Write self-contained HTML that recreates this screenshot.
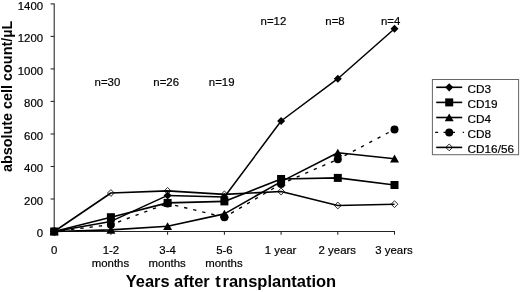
<!DOCTYPE html>
<html><head><meta charset="utf-8"><title>Lymphocyte subsets after transplantation</title>
<style>
html,body{margin:0;padding:0;background:#fff;}
body{width:520px;height:292px;overflow:hidden;}
svg{display:block;font-family:"Liberation Sans",Arial,sans-serif;}
.t{font-size:11.4px;fill:#000;stroke:#000;stroke-width:0.2px;}
.b{font-weight:bold;fill:#000;}
</style></head><body>
<svg width="520" height="292" viewBox="0 0 520 292">
<rect width="520" height="292" fill="#fff"/>

<g stroke="#222" stroke-width="1.05" fill="none">
<line x1="54.2" y1="3.5" x2="54.2" y2="232.0"/>
<line x1="53.7" y1="231.5" x2="395.0" y2="231.5"/>
<line x1="50.6" y1="231.5" x2="54.2" y2="231.5"/>
<line x1="50.6" y1="199.0" x2="54.2" y2="199.0"/>
<line x1="50.6" y1="166.5" x2="54.2" y2="166.5"/>
<line x1="50.6" y1="134.0" x2="54.2" y2="134.0"/>
<line x1="50.6" y1="101.4" x2="54.2" y2="101.4"/>
<line x1="50.6" y1="68.9" x2="54.2" y2="68.9"/>
<line x1="50.6" y1="36.4" x2="54.2" y2="36.4"/>
<line x1="50.6" y1="3.9" x2="54.2" y2="3.9"/>
<line x1="54.2" y1="231.5" x2="54.2" y2="234.7"/>
<line x1="110.9" y1="231.5" x2="110.9" y2="234.7"/>
<line x1="167.6" y1="231.5" x2="167.6" y2="234.7"/>
<line x1="224.4" y1="231.5" x2="224.4" y2="234.7"/>
<line x1="281.1" y1="231.5" x2="281.1" y2="234.7"/>
<line x1="337.8" y1="231.5" x2="337.8" y2="234.7"/>
<line x1="394.5" y1="231.5" x2="394.5" y2="234.7"/>
</g>
<text class="t" x="43.1" y="237.1" text-anchor="end">0</text>
<text class="t" x="43.1" y="204.6" text-anchor="end">200</text>
<text class="t" x="43.1" y="172.1" text-anchor="end">400</text>
<text class="t" x="43.1" y="139.6" text-anchor="end">600</text>
<text class="t" x="43.1" y="107.0" text-anchor="end">800</text>
<text class="t" x="43.1" y="74.5" text-anchor="end">1000</text>
<text class="t" x="43.1" y="42.0" text-anchor="end">1200</text>
<text class="t" x="43.1" y="9.5" text-anchor="end">1400</text>
<text class="t" x="54.2" y="253.6" text-anchor="middle">0</text>
<text class="t" x="110.9" y="253.6" text-anchor="middle">1-2</text>
<text class="t" x="110.4" y="266.5" text-anchor="middle">months</text>
<text class="t" x="167.6" y="253.6" text-anchor="middle">3-4</text>
<text class="t" x="167.1" y="266.5" text-anchor="middle">months</text>
<text class="t" x="224.4" y="253.6" text-anchor="middle">5-6</text>
<text class="t" x="223.9" y="266.5" text-anchor="middle">months</text>
<text class="t" x="280.6" y="253.6" text-anchor="middle">1 year</text>
<text class="t" x="337.3" y="253.6" text-anchor="middle">2 years</text>
<text class="t" x="394.0" y="253.6" text-anchor="middle">3 years</text>
<text class="t" x="107.4" y="86" text-anchor="middle">n=30</text>
<text class="t" x="166.2" y="86" text-anchor="middle">n=26</text>
<text class="t" x="221.7" y="86" text-anchor="middle">n=19</text>
<text class="t" x="273.4" y="25" text-anchor="middle">n=12</text>
<text class="t" x="335.0" y="25" text-anchor="middle">n=8</text>
<text class="t" x="390.6" y="25" text-anchor="middle">n=4</text>
<text class="b" x="125.8" y="286.6" font-size="16.4px">Years after <tspan x="215.3">t</tspan><tspan x="222.5" style="font-size:16.5px">ransplantation</tspan></text>
<text class="b" transform="translate(12.1,96.4) rotate(-90)" text-anchor="middle" font-size="14.4px">absolute cell count/µL</text>
<g fill="none" stroke="#000" stroke-width="1.6" stroke-linejoin="round">
<polyline points="54.2,231.5 110.9,193.0 167.6,190.9 224.4,194.4 281.1,191.5 337.8,205.5 394.5,204.2"/>
<line x1="54.2" y1="231.5" x2="110.9" y2="224.7" stroke-width="1.35" stroke-dasharray="3.3,6" stroke-dashoffset="1.6"/>
<line x1="110.9" y1="224.7" x2="167.6" y2="203.5" stroke-width="1.35" stroke-dasharray="3.3,6" stroke-dashoffset="1.6"/>
<line x1="167.6" y1="203.5" x2="224.4" y2="217.2" stroke-width="1.35" stroke-dasharray="3.3,6" stroke-dashoffset="1.6"/>
<line x1="224.4" y1="217.2" x2="281.1" y2="183.9" stroke-width="1.35" stroke-dasharray="3.3,6" stroke-dashoffset="1.6"/>
<line x1="281.1" y1="183.9" x2="337.8" y2="159.3" stroke-width="1.35" stroke-dasharray="3.3,6" stroke-dashoffset="1.6"/>
<line x1="337.8" y1="159.3" x2="394.5" y2="129.4" stroke-width="1.35" stroke-dasharray="3.3,6" stroke-dashoffset="1.6"/>
<polyline points="54.2,231.5 110.9,229.9 167.6,226.3 224.4,213.9 281.1,181.6 337.8,152.8 394.5,158.7"/>
<polyline points="54.2,231.5 110.9,217.2 167.6,202.9 224.4,201.4 281.1,179.0 337.8,177.9 394.5,185.0"/>
<polyline points="54.2,231.5 110.9,221.4 167.6,195.4 224.4,197.0 281.1,121.0 337.8,78.7 394.5,28.8" stroke-width="1.5"/>
</g>
<polygon points="54.2,228.1 57.6,231.5 54.2,234.9 50.8,231.5" fill="none" stroke="#000" stroke-width="0.85"/>
<polygon points="110.9,189.6 114.3,193.0 110.9,196.4 107.5,193.0" fill="none" stroke="#000" stroke-width="0.85"/>
<polygon points="167.6,187.5 171.0,190.9 167.6,194.3 164.2,190.9" fill="none" stroke="#000" stroke-width="0.85"/>
<polygon points="224.4,191.0 227.8,194.4 224.4,197.8 221.0,194.4" fill="none" stroke="#000" stroke-width="0.85"/>
<polygon points="281.1,188.1 284.5,191.5 281.1,194.9 277.7,191.5" fill="none" stroke="#000" stroke-width="0.85"/>
<polygon points="337.8,202.1 341.2,205.5 337.8,208.9 334.4,205.5" fill="none" stroke="#000" stroke-width="0.85"/>
<polygon points="394.5,200.8 397.9,204.2 394.5,207.6 391.1,204.2" fill="none" stroke="#000" stroke-width="0.85"/>
<circle cx="54.2" cy="231.5" r="4" fill="#000"/>
<circle cx="110.9" cy="224.7" r="4" fill="#000"/>
<circle cx="167.6" cy="203.5" r="4" fill="#000"/>
<circle cx="224.4" cy="217.2" r="4" fill="#000"/>
<circle cx="281.1" cy="183.9" r="4" fill="#000"/>
<circle cx="337.8" cy="159.3" r="4" fill="#000"/>
<circle cx="394.5" cy="129.4" r="4" fill="#000"/>
<polygon points="54.2,227.4 58.7,235.3 49.7,235.3" fill="#000"/>
<polygon points="110.9,225.8 115.4,233.7 106.4,233.7" fill="#000"/>
<polygon points="167.6,222.2 172.1,230.1 163.1,230.1" fill="#000"/>
<polygon points="224.4,209.8 228.9,217.7 219.9,217.7" fill="#000"/>
<polygon points="281.1,177.5 285.6,185.4 276.6,185.4" fill="#000"/>
<polygon points="337.8,148.7 342.3,156.6 333.3,156.6" fill="#000"/>
<polygon points="394.5,154.6 399.0,162.5 390.0,162.5" fill="#000"/>
<rect x="50.2" y="227.5" width="8" height="8" fill="#000"/>
<rect x="106.9" y="213.2" width="8" height="8" fill="#000"/>
<rect x="163.6" y="198.9" width="8" height="8" fill="#000"/>
<rect x="220.4" y="197.4" width="8" height="8" fill="#000"/>
<rect x="277.1" y="175.0" width="8" height="8" fill="#000"/>
<rect x="333.8" y="173.9" width="8" height="8" fill="#000"/>
<rect x="390.5" y="181.0" width="8" height="8" fill="#000"/>
<polygon points="54.2,227.5 58.2,231.5 54.2,235.5 50.2,231.5" fill="#000" stroke="none" stroke-width="0.85"/>
<polygon points="110.9,217.4 114.9,221.4 110.9,225.4 106.9,221.4" fill="#000" stroke="none" stroke-width="0.85"/>
<polygon points="167.6,191.4 171.6,195.4 167.6,199.4 163.6,195.4" fill="#000" stroke="none" stroke-width="0.85"/>
<polygon points="224.4,193.0 228.4,197.0 224.4,201.0 220.4,197.0" fill="#000" stroke="none" stroke-width="0.85"/>
<polygon points="281.1,117.0 285.1,121.0 281.1,125.0 277.1,121.0" fill="#000" stroke="none" stroke-width="0.85"/>
<polygon points="337.8,74.7 341.8,78.7 337.8,82.7 333.8,78.7" fill="#000" stroke="none" stroke-width="0.85"/>
<polygon points="394.5,24.8 398.5,28.8 394.5,32.8 390.5,28.8" fill="#000" stroke="none" stroke-width="0.85"/>
<rect x="432.4" y="79.5" width="86.2" height="75.2" fill="#fff" stroke="#666" stroke-width="1"/>
<line x1="436.2" y1="87.3" x2="462.2" y2="87.3" stroke="#000" stroke-width="1.6"/>
<polygon points="449.2,83.2 453.3,87.3 449.2,91.4 445.1,87.3" fill="#000" stroke="none" stroke-width="0.85"/>
<text class="t" x="467.5" y="92.7" style="font-size:11.8px">CD3</text>
<line x1="436.2" y1="102.4" x2="462.2" y2="102.4" stroke="#000" stroke-width="1.6"/>
<rect x="445.2" y="98.4" width="8" height="8" fill="#000"/>
<text class="t" x="467.5" y="107.5" style="font-size:11.8px">CD19</text>
<line x1="436.2" y1="117.5" x2="462.2" y2="117.5" stroke="#000" stroke-width="1.6"/>
<polygon points="449.2,113.4 453.7,121.3 444.7,121.3" fill="#000"/>
<text class="t" x="467.5" y="123.1" style="font-size:11.8px">CD4</text>
<path d="M435.2 132.4H438.1M443.6 132.4H446M452.4 132.4H455M462.8 132.4H464" stroke="#000" stroke-width="1.35" fill="none"/>
<circle cx="449.2" cy="132.4" r="4" fill="#000"/>
<text class="t" x="467.5" y="137.9" style="font-size:11.8px">CD8</text>
<line x1="436.2" y1="147.4" x2="462.2" y2="147.4" stroke="#000" stroke-width="1.6"/>
<polygon points="449.2,144.0 452.6,147.4 449.2,150.8 445.8,147.4" fill="none" stroke="#000" stroke-width="0.85"/>
<text class="t" x="467.5" y="153.0" style="font-size:11.8px">CD16/56</text>
</svg></body></html>
